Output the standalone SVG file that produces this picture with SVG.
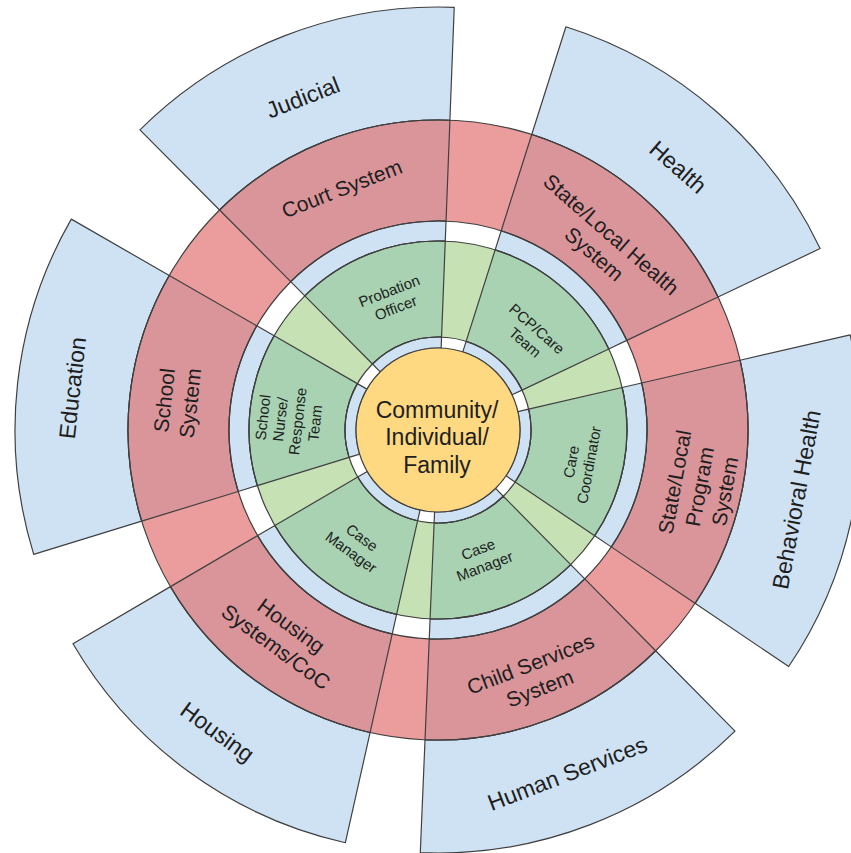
<svg xmlns="http://www.w3.org/2000/svg" width="851" height="853" viewBox="0 0 851 853">
<style>
text{font-family:"Liberation Sans",Arial,sans-serif;fill:#1e1e1e;text-anchor:middle;dominant-baseline:central}
.t1{font-size:23px}
.t2{font-size:21px}
.t3{font-size:15px}
.tc{font-size:23px}
</style>
<defs>
<g id="wedge" stroke="#404040" stroke-width="1.2" stroke-linejoin="round">
<path fill="#cfe2f3" d="M-168.67,-387.92 A423,423 0 0 1 168.67,-387.92 L123.61,-284.29 A310,310 0 0 0 -123.61,-284.29 Z"/>
<path fill="#da959b" d="M-123.61,-284.29 A310,310 0 0 1 123.61,-284.29 L83.34,-191.67 A209,209 0 0 0 -83.34,-191.67 Z"/>
<path fill="#cfe2f3" d="M-83.34,-191.67 A209,209 0 0 1 83.34,-191.67 L75.36,-173.32 A189,189 0 0 0 -75.36,-173.32 Z"/>
<path fill="#a8d2b2" d="M-75.36,-173.32 A189,189 0 0 1 75.36,-173.32 L37.08,-85.29 A93,93 0 0 0 -37.08,-85.29 Z"/>
<path fill="#cfe2f3" d="M-37.08,-85.29 A93,93 0 0 1 37.08,-85.29 L32.70,-75.20 A82,82 0 0 0 -32.70,-75.20 Z"/>
</g>
</defs>
<rect width="851" height="853" fill="#ffffff"/>
<g transform="translate(438,430)">
<g id="rings">
<circle r="259.5" fill="none" stroke="#eb9c9c" stroke-width="101"/>
<circle r="141" fill="none" stroke="#c6e1b4" stroke-width="96"/>
</g>
<g id="sector-judicial"><use href="#wedge" transform="rotate(-21.3)"/></g>
<g id="sector-health"><use href="#wedge" transform="rotate(41.1)"/></g>
<g id="sector-behavioral"><use href="#wedge" transform="rotate(100.5)"/></g>
<g id="sector-human"><use href="#wedge" transform="rotate(158.9)"/></g>
<g id="sector-housing"><use href="#wedge" transform="rotate(216.15)"/></g>
<g id="sector-education"><use href="#wedge" transform="rotate(276.4)"/></g>
<g id="ring-outlines" fill="none" stroke="#404040" stroke-width="1.2">
<circle r="310"/><circle r="209"/><circle r="189"/><circle r="93"/>
</g>
<g id="center">
<circle r="82" fill="#fed981" stroke="#404040" stroke-width="1.2"/>
<text class="tc" x="-1" y="7"><tspan x="-1" dy="-27.5">Community/</tspan><tspan x="-1" dy="27.5">Individual/</tspan><tspan x="-1" dy="27.5">Family</tspan></text>
</g>
<g id="judicial"><text class="t1" transform="rotate(-21.3) translate(-5,-359)">Judicial</text></g>
<g id="court-system"><text class="t2" transform="rotate(-21.3) translate(-2,-260)">Court System</text></g>
<g id="probation-officer"><text class="t3" transform="rotate(-21.3) translate(5,-139)"><tspan x="0" dy="-9">Probation</tspan><tspan x="0" dy="18">Officer</tspan></text></g>
<g id="health"><text class="t1" transform="rotate(41.1) translate(8,-356)">Health</text></g>
<g id="state-local-health"><text class="t2" transform="rotate(41.1) translate(2,-249)"><tspan x="0" dy="-13">State/Local Health</tspan><tspan x="0" dy="26">System</tspan></text></g>
<g id="pcp-care-team"><text class="t3" transform="rotate(41.1) translate(8,-133)"><tspan x="0" dy="-9">PCP/Care</tspan><tspan x="0" dy="18">Team</tspan></text></g>
<g id="behavioral-health"><text class="t1" transform="rotate(-79.5) translate(-3,365)">Behavioral Health</text></g>
<g id="state-local-program"><text class="t2" transform="rotate(-79.5) translate(-8,267)"><tspan x="0" dy="-25.5">State/Local</tspan><tspan x="0" dy="25.5">Program</tspan><tspan x="0" dy="25.5">System</tspan></text></g>
<g id="care-coordinator"><text class="t3" transform="rotate(-79.5) translate(-7,145)"><tspan x="0" dy="-9">Care</tspan><tspan x="0" dy="18">Coordinator</tspan></text></g>
<g id="human-services"><text class="t1" transform="rotate(-21.1) translate(-3,367)">Human Services</text></g>
<g id="child-services"><text class="t2" transform="rotate(-21.1) translate(2,264)"><tspan x="0" dy="-13">Child Services</tspan><tspan x="0" dy="26">System</tspan></text></g>
<g id="case-manager-1"><text class="t3" transform="rotate(-21.1) translate(-5.5,134)"><tspan x="0" dy="-9">Case</tspan><tspan x="0" dy="18">Manager</tspan></text></g>
<g id="housing"><text class="t1" transform="rotate(36.15) translate(0,374)">Housing</text></g>
<g id="housing-systems"><text class="t2" transform="rotate(36.15) translate(-3,257)"><tspan x="0" dy="-13">Housing</tspan><tspan x="0" dy="26">Systems/CoC</tspan></text></g>
<g id="case-manager-2"><text class="t3" transform="rotate(36.15) translate(2,140)"><tspan x="0" dy="-9">Case</tspan><tspan x="0" dy="18">Manager</tspan></text></g>
<g id="education"><text class="t1" transform="rotate(-83.6) translate(1,-368)">Education</text></g>
<g id="school-system"><text class="t2" transform="rotate(-83.6) translate(-1,-263)"><tspan x="0" dy="-13">School</tspan><tspan x="0" dy="26">System</tspan></text></g>
<g id="school-nurse"><text class="t3" transform="rotate(-83.6) translate(-7,-150)"><tspan x="0" dy="-26.25">School</tspan><tspan x="0" dy="17.5">Nurse/</tspan><tspan x="0" dy="17.5">Response</tspan><tspan x="0" dy="17.5">Team</tspan></text></g>
</g>
</svg>
